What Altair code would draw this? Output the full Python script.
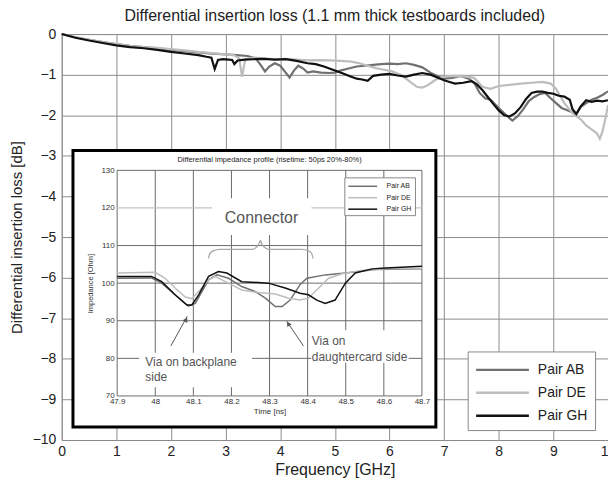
import altair as alt
import pandas as pd

FONT = "Liberation Sans"
pairs = ["Pair AB", "Pair DE", "Pair GH"]
pair_colors = ["#707070", "#bdbdbd", "#111111"]

# ---- main chart: differential insertion loss (GHz, dB) ----
ab = [(0, 0), (0.25, -0.08), (0.5, -0.14), (0.75, -0.2), (1.0, -0.25), (1.25, -0.29), (1.5, -0.32),
      (1.75, -0.35), (2.0, -0.39), (2.25, -0.42), (2.5, -0.45), (2.75, -0.48), (3.0, -0.5), (3.2, -0.52),
      (3.4, -0.54), (3.55, -0.6), (3.65, -0.78), (3.72, -0.92), (3.8, -0.8), (3.9, -0.72), (4.0, -0.78),
      (4.1, -0.95), (4.17, -1.07), (4.25, -0.9), (4.33, -0.78), (4.42, -0.85), (4.5, -0.95), (4.6, -0.92),
      (4.75, -0.95), (4.9, -0.96), (5.0, -0.95), (5.1, -0.9), (5.25, -0.85), (5.4, -0.8), (5.55, -0.78),
      (5.7, -0.76), (5.85, -0.74), (6.0, -0.73), (6.15, -0.74), (6.3, -0.72), (6.45, -0.76), (6.6, -0.82),
      (6.75, -0.95), (6.9, -1.05), (7.0, -1.1), (7.15, -1.08), (7.3, -1.03), (7.45, -1.1), (7.55, -1.2),
      (7.65, -1.45), (7.75, -1.58), (7.85, -1.62), (8.0, -1.82), (8.1, -1.95), (8.2, -2.08), (8.25, -2.13),
      (8.35, -2.02), (8.45, -1.85), (8.55, -1.65), (8.65, -1.55), (8.75, -1.48), (8.85, -1.45), (8.95, -1.58),
      (9.05, -1.7), (9.15, -1.82), (9.3, -1.9), (9.42, -1.97), (9.5, -1.8), (9.6, -1.7), (9.7, -1.62),
      (9.8, -1.57), (9.9, -1.5), (10.0, -1.41)]
de = [(0, 0), (0.25, -0.08), (0.5, -0.14), (0.75, -0.2), (1.0, -0.25), (1.25, -0.29), (1.5, -0.32),
      (1.75, -0.34), (2.0, -0.37), (2.25, -0.4), (2.5, -0.44), (2.75, -0.47), (3.0, -0.5), (3.15, -0.52),
      (3.25, -0.6), (3.3, -1.05), (3.36, -0.62), (3.5, -0.58), (3.7, -0.6), (3.9, -0.62), (4.1, -0.61),
      (4.3, -0.63), (4.5, -0.65), (4.7, -0.64), (4.9, -0.65), (5.1, -0.66), (5.3, -0.68), (5.45, -0.72),
      (5.6, -0.78), (5.75, -0.84), (5.9, -0.88), (6.05, -0.92), (6.2, -1.0), (6.35, -1.15), (6.5, -1.3),
      (6.6, -1.32), (6.7, -1.26), (6.85, -1.12), (7.0, -1.05), (7.2, -1.03), (7.4, -1.05), (7.55, -1.08),
      (7.7, -1.3), (7.85, -1.35), (8.0, -1.28), (8.2, -1.25), (8.4, -1.22), (8.6, -1.2), (8.8, -1.18),
      (8.95, -1.22), (9.05, -1.35), (9.2, -1.7), (9.35, -1.95), (9.5, -2.1), (9.6, -2.25), (9.7, -2.35),
      (9.8, -2.45), (9.85, -2.58), (9.9, -2.4), (9.95, -2.1), (10.0, -1.75)]
gh = [(0, 0), (0.25, -0.09), (0.5, -0.16), (0.75, -0.22), (1.0, -0.28), (1.25, -0.32), (1.5, -0.35),
      (1.75, -0.39), (2.0, -0.44), (2.25, -0.48), (2.5, -0.52), (2.65, -0.56), (2.74, -0.58), (2.8, -0.86),
      (2.86, -0.64), (2.95, -0.62), (3.05, -0.63), (3.12, -0.64), (3.16, -0.74), (3.22, -0.65), (3.35, -0.63),
      (3.5, -0.62), (3.7, -0.61), (3.9, -0.63), (4.1, -0.62), (4.3, -0.66), (4.5, -0.72), (4.65, -0.74),
      (4.8, -0.8), (5.0, -0.9), (5.15, -0.97), (5.3, -1.05), (5.4, -1.1), (5.5, -1.12), (5.6, -1.15),
      (5.7, -1.03), (5.85, -1.0), (6.0, -0.98), (6.15, -1.02), (6.3, -1.05), (6.45, -1.0), (6.6, -0.96),
      (6.75, -1.0), (6.9, -1.08), (7.0, -1.14), (7.1, -1.18), (7.2, -1.22), (7.35, -1.2), (7.5, -1.16),
      (7.6, -1.24), (7.7, -1.38), (7.8, -1.55), (7.9, -1.72), (8.0, -1.88), (8.1, -2.0), (8.2, -2.03),
      (8.3, -1.95), (8.4, -1.8), (8.5, -1.6), (8.6, -1.45), (8.7, -1.42), (8.8, -1.42), (8.9, -1.45),
      (9.0, -1.47), (9.1, -1.52), (9.2, -1.54), (9.3, -1.62), (9.35, -1.85), (9.42, -1.97), (9.5, -1.78),
      (9.6, -1.63), (9.7, -1.67), (9.8, -1.64), (9.9, -1.66), (10.0, -1.63)]
main_x_ticks = list(range(0, 11))
main_y_ticks = list(range(-10, 1))

# ---- inset: differential impedance profile (ns, Ohm) ----
i_ab = [(47.9, 101.3), (47.99, 101.4), (48.017, 100.0), (48.052, 96.9), (48.087, 93.9), (48.105, 94.6),
        (48.14, 100.9), (48.162, 102.2), (48.192, 101.3), (48.227, 99.1), (48.262, 97.8), (48.289, 96.0),
        (48.315, 93.8), (48.333, 93.8), (48.354, 95.5), (48.38, 99.6), (48.398, 101.3), (48.446, 102.2),
        (48.499, 102.7), (48.578, 103.6), (48.7, 103.8)]
i_de = [(47.9, 102.7), (48.0, 102.9), (48.026, 101.3), (48.052, 98.7), (48.079, 96.3), (48.096, 95.9),
        (48.118, 98.2), (48.14, 100.9), (48.157, 101.8), (48.184, 100.4), (48.227, 98.2), (48.271, 97.5),
        (48.315, 97.1), (48.35, 96.0), (48.38, 95.5), (48.402, 96.0), (48.429, 98.7), (48.455, 101.3),
        (48.49, 102.5), (48.542, 103.4), (48.604, 103.8), (48.7, 103.9)]
i_gh = [(47.9, 101.8), (47.99, 101.8), (48.017, 100.4), (48.052, 96.9), (48.083, 94.2), (48.096, 94.2),
        (48.114, 96.9), (48.14, 101.8), (48.166, 103.1), (48.188, 102.7), (48.227, 100.4), (48.297, 100.0),
        (48.341, 98.7), (48.38, 97.3), (48.402, 96.9), (48.424, 95.5), (48.446, 94.6), (48.472, 95.5),
        (48.499, 100.0), (48.525, 102.7), (48.569, 103.8), (48.604, 104.0), (48.7, 104.5)]
inset_x_ticks = [47.9, 48.0, 48.1, 48.2, 48.3, 48.4, 48.5, 48.6, 48.7]
inset_y_ticks = [70, 80, 90, 100, 110, 120, 130]

# annotation content (inset data units)
brace_pts = [(48.14, 106.6), (48.143, 107.8), (48.152, 108.6), (48.17, 109.0), (48.255, 109.0),
             (48.266, 109.6), (48.273, 110.6), (48.276, 111.4), (48.279, 110.6), (48.286, 109.6),
             (48.297, 109.0), (48.385, 109.0), (48.403, 108.6), (48.411, 107.8), (48.414, 106.6)]
arrow_shafts = [("a1", 48.041, 83.3), ("a1", 48.084, 91.2), ("a2", 48.389, 83.3), ("a2", 48.345, 89.9)]
arrow_heads = [(48.081, 90.3, 29), (48.349, 89.2, 326)]
label_boxes = [(48.149, 48.41, 112.8, 122.6), (47.958, 48.254, 72.3, 81.5), (48.41, 48.665, 78.8, 87.5)]
small_notes = [(47.974, 79.0, "Via on backplane"), (47.974, 75.1, "side"),
               (48.411, 84.6, "Via on"), (48.411, 80.4, "daughtercard side")]
connector_note = [(48.279, 117.2, "Connector")]
inset_title = [(48.3, 132.8, "Differential impedance profile (risetime: 50ps 20%-80%)")]


def series_df(rows, name, xf, yf, cf):
    return pd.DataFrame({xf: [r[0] for r in rows], yf: [r[1] for r in rows], cf: name})


main_df = pd.concat([series_df(ab, pairs[0], "f", "v", "pair"),
                     series_df(de, pairs[1], "f", "v", "pair"),
                     series_df(gh, pairs[2], "f", "v", "pair")], ignore_index=True)
inset_df = pd.concat([series_df(i_ab, pairs[0], "t", "z", "ipair"),
                      series_df(i_de, pairs[1], "t", "z", "ipair"),
                      series_df(i_gh, pairs[2], "t", "z", "ipair")], ignore_index=True)

W, H = 549, 408
GRID = "#8c8c8c"

main = alt.Chart(main_df).mark_line(strokeWidth=2.2).encode(
    x=alt.X("f:Q", scale=alt.Scale(domain=[0, 10], nice=False),
            axis=alt.Axis(values=main_x_ticks, orient="bottom", title="Frequency [GHz]", grid=True,
                          gridColor=GRID, ticks=False, domain=False, labelFontSize=14,
                          labelPadding=5, labelFlush=False, titleFontSize=16, titlePadding=3,
                          titleFontWeight="normal")),
    y=alt.Y("v:Q", scale=alt.Scale(domain=[-10, 0], nice=False),
            axis=alt.Axis(values=main_y_ticks, orient="left", title="Differential insertion loss [dB]",
                          grid=True, gridColor=GRID, ticks=False, domain=False, labelFontSize=14,
                          labelPadding=6, titleFontSize=15, titlePadding=8, titleFontWeight="normal")),
    color=alt.Color("pair:N", scale=alt.Scale(domain=pairs, range=pair_colors),
                    legend=alt.Legend(title=None, orient="none", legendX=408, legendY=319,
                                      fillColor="white", strokeColor="#888", padding=7,
                                      symbolType="M-2.65,0H2.65", symbolSize=400, symbolStrokeWidth=2.5,
                                      symbolOffset=16.5, labelFontSize=14, rowPadding=4, labelOffset=24,
                                      zindex=1)),
    detail="pair:N",
)

isx = alt.Scale(domain=[47.9, 48.7], range=[55.7, 362], nice=False, zero=False)
isy = alt.Scale(domain=[70, 130], range=[363.7, 137], nice=False, zero=False)
iax = alt.Axis(values=inset_x_ticks, format="~g", orient="bottom", offset=-44.3, grid=False, ticks=False,
               domain=False, labelFontSize=8, labelPadding=2, labelFlush=False, labelColor="#333",
               title="Time [ns]", titleFontSize=8, titleFontWeight="normal", titlePadding=2,
               titleColor="#333", zindex=1)
iay = alt.Axis(values=inset_y_ticks, orient="left", offset=-55.7, grid=False, ticks=False, domain=False,
               labelFontSize=8, labelPadding=3, labelColor="#333", title="Impedance [Ohm]",
               titleFontSize=7.5, titleFontWeight="normal", titlePadding=6, titleColor="#333", zindex=1)


def IX(field):
    return alt.X(field, type="quantitative", scale=isx, axis=iax)


def IY(field):
    return alt.Y(field, type="quantitative", scale=isy, axis=iay)


frame = alt.Chart(pd.DataFrame({"k": [0]})).mark_rect(fill="white", stroke="black", strokeWidth=3).encode(
    x=alt.value(11.3), x2=alt.value(376), y=alt.value(117), y2=alt.value(395))

vgrid = pd.DataFrame({"t": inset_x_ticks, "z": 70, "z2": 130})
hvals = [v for v in inset_y_ticks if v != 120]
hgrid = pd.DataFrame({"z": hvals, "t": 47.9, "t2": 48.7})
hgrid_light = pd.DataFrame({"z": [120], "t": [47.9], "t2": [48.7]})

vg = alt.Chart(vgrid).mark_rule(color="#6a6a6a", strokeWidth=1).encode(x=IX("t"), y=IY("z"), y2="z2")
hg = alt.Chart(hgrid).mark_rule(color="#6a6a6a", strokeWidth=1).encode(y=IY("z"), x=IX("t"), x2="t2")
hgl = alt.Chart(hgrid_light).mark_rule(color="#c4c4c4", strokeWidth=1.2).encode(y=IY("z"), x=IX("t"), x2="t2")

boxes_df = pd.DataFrame({"t": [b[0] for b in label_boxes], "t2": [b[1] for b in label_boxes],
                         "z": [b[2] for b in label_boxes], "z2": [b[3] for b in label_boxes]})
boxes = alt.Chart(boxes_df).mark_rect(fill="white").encode(x=IX("t"), x2="t2", y=IY("z"), y2="z2")

ilines = alt.Chart(inset_df).mark_line(strokeWidth=1.5).encode(
    x=IX("t"), y=IY("z"),
    color=alt.Color("ipair:N", scale=alt.Scale(domain=pairs, range=pair_colors),
                    legend=alt.Legend(title=None, orient="none", legendX=284, legendY=144,
                                      fillColor="white", strokeColor="#888", padding=3,
                                      symbolType="M-2.9,0H2.9", symbolSize=100, symbolStrokeWidth=1.5,
                                      symbolOffset=9.5, labelFontSize=7, rowPadding=2.5, labelOffset=18,
                                      zindex=1)),
)

brace_df = pd.DataFrame({"t": [p[0] for p in brace_pts], "z": [p[1] for p in brace_pts]})
brace = alt.Chart(brace_df).mark_line(color="#a8a8a8", strokeWidth=1.3, interpolate="monotone").encode(
    x=IX("t"), y=IY("z"))

shaft_df = pd.DataFrame({"a": [s[0] for s in arrow_shafts], "t": [s[1] for s in arrow_shafts],
                         "z": [s[2] for s in arrow_shafts]})
shafts = alt.Chart(shaft_df).mark_line(color="#555", strokeWidth=1).encode(x=IX("t"), y=IY("z"), detail="a:N")
heads_df = pd.DataFrame({"t": [h[0] for h in arrow_heads], "z": [h[1] for h in arrow_heads],
                         "ang": [h[2] for h in arrow_heads]})
heads = alt.Chart(heads_df).mark_point(shape="triangle-up", filled=True, color="#555", size=28, opacity=1).encode(
    x=IX("t"), y=IY("z"), angle=alt.Angle("ang:Q", scale=None))

notes_df = pd.DataFrame({"t": [n[0] for n in small_notes], "z": [n[1] for n in small_notes],
                         "s": [n[2] for n in small_notes]})
notes = alt.Chart(notes_df).mark_text(align="left", baseline="middle", fontSize=12, color="#555").encode(
    x=IX("t"), y=IY("z"), text="s:N")
conn_df = pd.DataFrame({"t": [c[0] for c in connector_note], "z": [c[1] for c in connector_note],
                        "s": [c[2] for c in connector_note]})
conn = alt.Chart(conn_df).mark_text(align="center", baseline="middle", fontSize=16, color="#555").encode(
    x=IX("t"), y=IY("z"), text="s:N")
ititle_df = pd.DataFrame({"t": [c[0] for c in inset_title], "z": [c[1] for c in inset_title],
                          "s": [c[2] for c in inset_title]})
ititle = alt.Chart(ititle_df).mark_text(align="center", baseline="middle", fontSize=7.5, color="#222").encode(
    x=IX("t"), y=IY("z"), text="s:N")

inset = alt.layer(frame, vg, hg, hgl, boxes, ilines, brace, shafts, heads, notes, conn, ititle)

chart = alt.layer(main, inset).resolve_scale(
    x="independent", y="independent", color="independent"
).properties(
    width=W, height=H,
    title=alt.TitleParams("Differential insertion loss (1.1 mm thick testboards included)",
                          fontSize=16, fontWeight="normal", anchor="middle", offset=3, color="#222"),
    padding={"left": 54, "top": 25, "right": 0, "bottom": 39},
    autosize=alt.AutoSizeParams(type="none"),
).configure(font=FONT).configure_view(stroke=GRID, strokeWidth=1).configure_axis(
    labelColor="#222", titleColor="#222", labelFont=FONT, titleFont=FONT
).configure_legend(labelFont=FONT, labelColor="#222")

chart.save("out.html", embed_options={"renderer": "svg", "actions": False})
